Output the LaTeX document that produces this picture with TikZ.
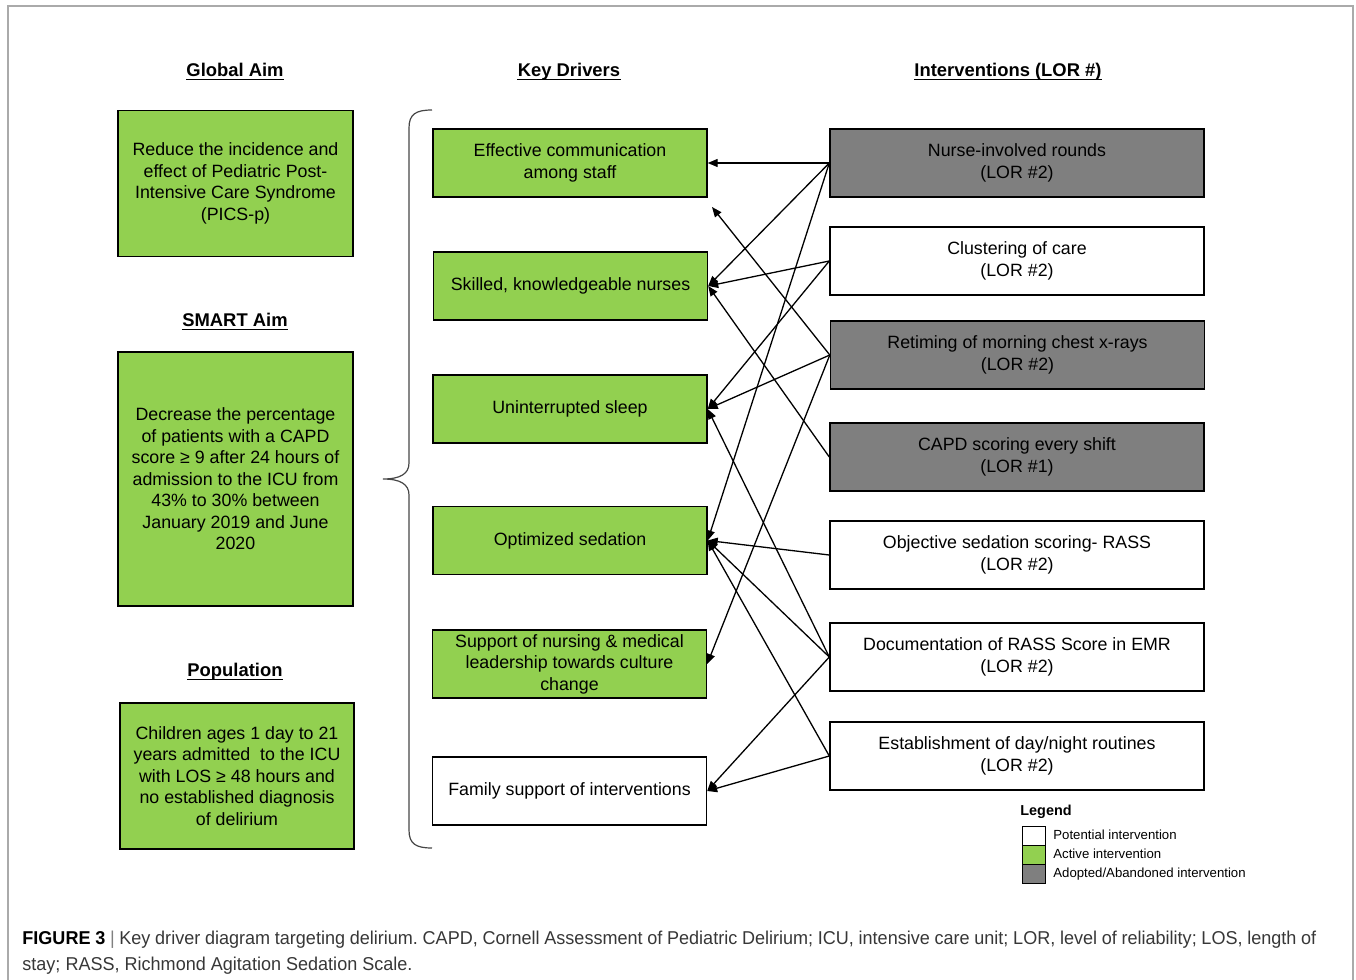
\documentclass[tikz,border=0pt]{standalone}
\usepackage{fontspec}
\setmainfont{Liberation Sans}
\newfontfamily\capfont[FakeStretch=0.97]{Liberation Sans}
\usetikzlibrary{arrows.meta}
\definecolor{boxgreen}{RGB}{146,208,80}
\definecolor{boxgray}{RGB}{127,127,127}
\definecolor{framegray}{RGB}{170,170,170}
\definecolor{captext}{RGB}{55,55,55}
\definecolor{bracegray}{RGB}{70,70,70}
\begin{document}
\frenchspacing
\begin{tikzpicture}[x=0.5pt,y=-0.5pt,
  box/.style={draw=black, line width=0.7pt, align=center, inner sep=0pt,
    font=\fontsize{8.9}{10.75}\selectfont},
  kd/.style={box, minimum width=137pt, minimum height=34pt},
  iv/.style={box, minimum width=187pt, minimum height=34pt},
  hdr/.style={font=\fontsize{9.2}{11}\selectfont\bfseries, inner sep=0pt, anchor=base},
  uline/.style={line width=0.6pt},
  link/.style={-{Triangle[length=5pt,width=4pt]}, line width=0.65pt},
  legbox/.style={draw=black, line width=0.5pt, minimum width=11.5pt, minimum height=9.5pt, inner sep=0pt, anchor=north west},
  legtxt/.style={font=\fontsize{6.6}{8}\selectfont, anchor=base west, inner sep=0pt},
]
\useasboundingbox (0,0) rectangle (1356,980);
% frame
\draw[framegray, line width=0.8pt] (8,980) -- (8,6) -- (1353,6) -- (1353,980);

% headers
\node[hdr] (hg) at (235,76) {Global Aim};
\draw[uline] ([yshift=-1.8pt]hg.base west) -- ([yshift=-1.8pt]hg.base east);
\node[hdr] (hs) at (235,326) {SMART Aim};
\draw[uline] ([yshift=-1.8pt]hs.base west) -- ([yshift=-1.8pt]hs.base east);
\node[hdr] (hp) at (235,676) {Population};
\draw[uline] ([yshift=-1.8pt]hp.base west) -- ([yshift=-1.8pt]hp.base east);
\node[hdr] (hk) at (569,76) {Key Drivers};
\draw[uline] ([yshift=-1.8pt]hk.base west) -- ([yshift=-1.8pt]hk.base east);
\node[hdr] (hi) at (1008,76) {Interventions (LOR \#)};
\draw[uline] ([yshift=-1.8pt]hi.base west) -- ([yshift=-1.8pt]hi.base east);

% aims
\node[box, fill=boxgreen, minimum width=117.5pt, minimum height=73pt] (ga) at (235.5,183.5)
  {Reduce the incidence and\\effect of Pediatric Post-\\Intensive Care Syndrome\\(PICS-p)};
\node[box, fill=boxgreen, minimum width=117.5pt, minimum height=127pt] (sa) at (235.5,479)
  {Decrease the percentage\\of patients with a CAPD\\score ≥ 9 after 24 hours of\\admission to the ICU from\\43\% to 30\% between\\January 2019 and June\\2020};
\node[box, fill=boxgreen, minimum width=117pt, minimum height=73pt] (po) at (237,776)
  {Children ages 1 day to 21\\years admitted\ \ to the ICU\\with LOS ≥ 48 hours and\\no established diagnosis\\of delirium};

% brace
\draw[bracegray, line width=0.6pt] (432,110) .. controls (416,110) and (409,114) .. (409,128)
  -- (409,463) .. controls (409,474) and (400,479) .. (383,479)
  .. controls (400,479) and (409,484) .. (409,495)
  -- (409,830) .. controls (409,844) and (416,848) .. (432,848);

% key drivers
\node[kd, fill=boxgreen] (k1) at (570,163) {Effective communication\\among staff};
\node[kd, fill=boxgreen] (k2) at (570.5,286) {Skilled, knowledgeable nurses};
\node[kd, fill=boxgreen] (k3) at (570,409) {Uninterrupted sleep};
\node[kd, fill=boxgreen] (k4) at (570,540.5) {Optimized sedation};
\node[kd, fill=boxgreen] (k5) at (569.5,664) {Support of nursing \& medical\\leadership towards culture\\change};
\node[kd, fill=white] (k6) at (569.5,791) {Family support of interventions};

% interventions
\node[iv, fill=boxgray] (i1) at (1017,163) {Nurse-involved rounds\\(LOR \#2)};
\node[iv, fill=white] (i2) at (1017,261) {Clustering of care\\(LOR \#2)};
\node[iv, fill=boxgray] (i3) at (1017.5,355) {Retiming of morning chest x-rays\\(LOR \#2)};
\node[iv, fill=boxgray] (i4) at (1017,457) {CAPD scoring every shift\\(LOR \#1)};
\node[iv, fill=white] (i5) at (1017,555) {Objective sedation scoring- RASS\\(LOR \#2)};
\node[iv, fill=white] (i6) at (1017,657) {Documentation of RASS Score in EMR\\(LOR \#2)};
\node[iv, fill=white] (i7) at (1017,756) {Establishment of day/night routines\\(LOR \#2)};

% connectors
\coordinate (k1tip) at (712,207);
\draw[link] (i1.west) -- (k1.east);
\draw[link] (i1.west) -- (k2.east);
\draw[link] (i1.west) -- (k4.east);
\draw[link] (i2.west) -- (k2.east);
\draw[link] (i2.west) -- (k3.east);
\draw[link] (i3.west) -- (k1tip);
\draw[link] (i3.west) -- (k3.east);
\draw[link] (i3.west) -- (k5.east);
\draw[link] (i4.west) -- (k2.east);
\draw[link] (i5.west) -- (k4.east);
\draw[link] (i6.west) -- (k3.east);
\draw[link] (i6.west) -- (k4.east);
\draw[link] (i6.west) -- (k6.east);
\draw[link] (i7.west) -- (k4.east);
\draw[link] (i7.west) -- (k6.east);

% legend
\node[font=\fontsize{7.2}{8}\selectfont\bfseries, anchor=base west, inner sep=0pt] (lg) at (1020,815) {Legend};
\node[legbox, fill=white] (l1) at (1022,826) {};
\node[legbox, fill=boxgreen] (l2) at (1022,845) {};
\node[legbox, fill=boxgray] (l3) at (1022,864) {};
\node[legtxt] (t1) at (1053,839) {Potential intervention};
\node[legtxt] (t2) at (1053,858) {Active intervention};
\node[legtxt] (t3) at (1053,877) {Adopted/Abandoned intervention};

% caption
\node[anchor=base west, inner sep=0pt, font=\capfont\fontsize{9.3}{13}\selectfont, text=captext] (cap1) at (22,944)
  {\makebox[647pt][s]{\textbf{\color{black}FIGURE 3} {\color{gray}|} Key driver diagram targeting delirium. CAPD, Cornell Assessment of Pediatric Delirium; ICU, intensive care unit; LOR, level of reliability; LOS, length of}};
\node[anchor=base west, inner sep=0pt, font=\capfont\fontsize{9.3}{13}\selectfont, text=captext] (cap2) at (22,970)
  {stay; RASS, Richmond Agitation Sedation Scale.};
\end{tikzpicture}
\end{document}
